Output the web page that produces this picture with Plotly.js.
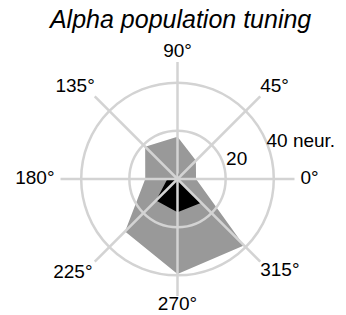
<!DOCTYPE html>
<html><head><meta charset="utf-8">
<script src="https://cdn.plot.ly/plotly-3.0.1.min.js"></script>
<style>html,body{margin:0;padding:0;background:#fff}</style>
</head><body><div id="chart" style="width:346px;height:315px"></div>
<script>
const directions = [0, 45, 90, 135, 180, 225, 270, 315];
const angleLabels = ["0°", "45°", "90°", "135°", "180°", "225°", "270°", "315°"];
const allNeurons = [7.7, 10.8, 17.6, 19.0, 13.4, 30.8, 39.5, 39.0];
const tunedNeurons = [0, 1.5, 3.0, 0, 4.2, 12.6, 13.8, 14.0];
const radialTicks = [20, 40];
const radialLabels = ["20", "40 neur."];
const radialMax = 48.6;
const labelAngle = 22.5;

const closeRing = a => a.concat([a[0]]);
const font = "Liberation Sans, Arial, sans-serif";
const gridColor = "#d3d3d3";
const anglePositions = ['middle right', 'top right', 'top center', 'top left',
                        'middle left', 'bottom left', 'bottom center', 'bottom right'];
// invisible spacer markers push some labels a little further out
const angleLabelPad = [8, 0, 0, 0, 8, 2, 0, 0];
const radialLabelPad = [5, 0];

const traces = [
  {type: 'scatterpolar', subplot: 'polar', r: closeRing(allNeurons), theta: closeRing(directions),
   mode: 'lines', fill: 'toself', fillcolor: '#999999', line: {width: 0, color: '#999999'}, hoverinfo: 'skip'},
  {type: 'scatterpolar', subplot: 'polar', r: closeRing(tunedNeurons), theta: closeRing(directions),
   mode: 'lines', fill: 'toself', fillcolor: '#000000', line: {width: 0, color: '#000000'}, hoverinfo: 'skip'},
  {type: 'scatterpolar', subplot: 'polar2', r: radialTicks, theta: radialTicks.map(() => labelAngle),
   mode: 'text+markers', text: radialLabels, textposition: 'middle right',
   marker: {size: radialLabelPad, opacity: 0, color: '#fff'},
   textfont: {family: font, size: 19, color: '#000'}, hoverinfo: 'skip', cliponaxis: false},
  {type: 'scatterpolar', subplot: 'polar2', r: directions.map(() => radialMax), theta: directions,
   mode: 'text+markers', text: angleLabels, textposition: anglePositions,
   marker: {size: angleLabelPad, opacity: 0, color: '#fff'},
   textfont: {family: font, size: 19, color: '#000'}, hoverinfo: 'skip', cliponaxis: false}
];

const layout = {
  width: 346, height: 315,
  margin: {l: 60, r: 51, t: 62, b: 19},
  showlegend: false,
  paper_bgcolor: '#ffffff',
  title: {text: 'Alpha population tuning',
          font: {family: font, size: 25, style: 'italic', color: '#000'},
          x: 0.522, xanchor: 'center', xref: 'container', y: 0.968, yref: 'container', yanchor: 'top'},
  polar: {
    bgcolor: '#ffffff',
    domain: {x: [0, 1], y: [0, 1]},
    radialaxis: {range: [0, radialMax], visible: false},
    angularaxis: {visible: false, rotation: 0, direction: 'counterclockwise'}
  },
  polar2: {
    bgcolor: 'rgba(0,0,0,0)',
    domain: {x: [0, 1], y: [0, 1]},
    radialaxis: {range: [0, radialMax], tickmode: 'array', tickvals: radialTicks, showticklabels: false,
                 ticks: '', showline: false, gridcolor: gridColor, gridwidth: 2.5, angle: labelAngle},
    angularaxis: {tickmode: 'array', tickvals: directions, showticklabels: false, showline: false, ticks: '',
                  gridcolor: gridColor, gridwidth: 2.5, rotation: 0, direction: 'counterclockwise'}
  }
};

Plotly.newPlot('chart', traces, layout, {staticPlot: true, displayModeBar: false});
</script>
</body></html>
